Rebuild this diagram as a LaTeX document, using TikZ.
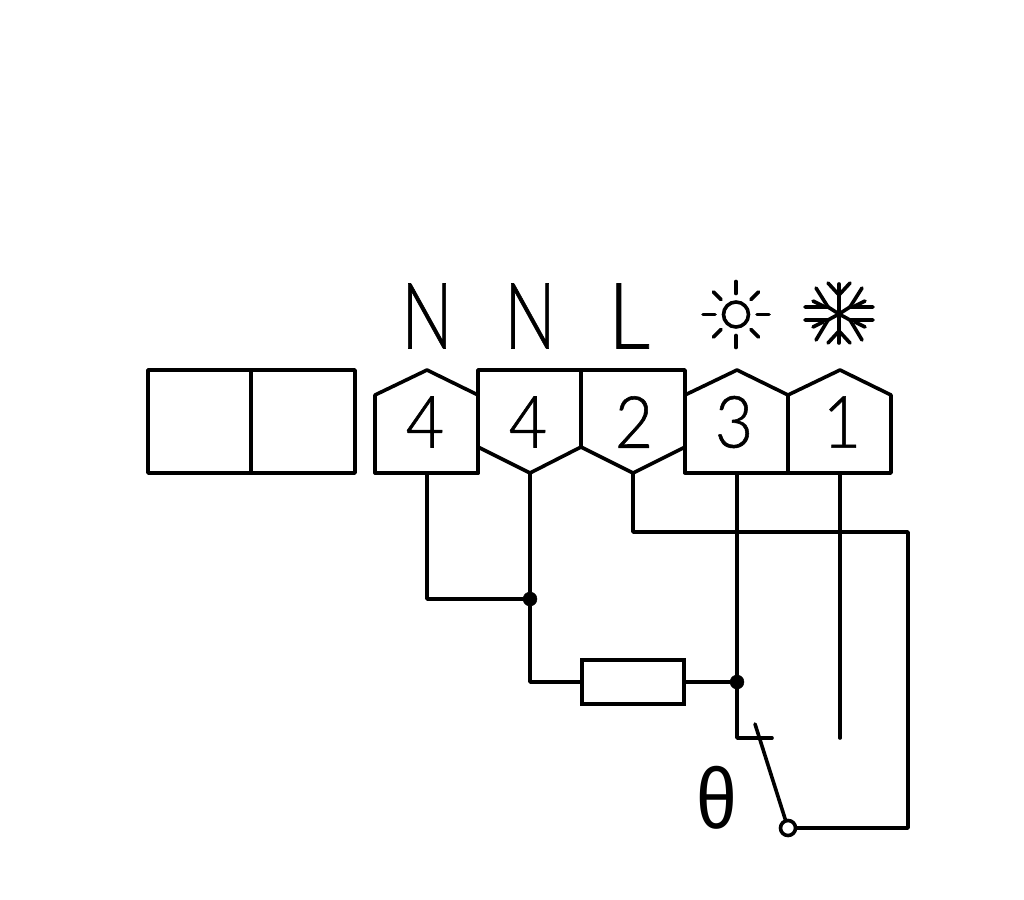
\documentclass[tikz,border=0pt]{standalone}
\usepackage{fontspec}
\setmainfont{Liberation Sans}
\newfontfamily\thinfont{Lato Light}[FakeBold=0.8]
\tikzset{
  x=1pt,y=-1pt,
  wire/.style={line width=3.6pt,line cap=round,line join=round},
  glyph/.style={line width=3.6pt,line cap=round,line join=round},
  dotmark/.style={circle,fill=black,draw=black,inner sep=0pt,minimum size=14pt},
  hollow/.style={circle,fill=white,draw=black,line width=3.6pt,inner sep=0pt,minimum size=15pt},
  bigtxt/.style={inner sep=0pt,font=\thinfont\fontsize{92}{92}\selectfont},
  numtxt/.style={inner sep=0pt,font=\thinfont\fontsize{72}{72}\selectfont},
}
\begin{document}
\begin{tikzpicture}
\useasboundingbox (0,0) rectangle (1024,899);
% blank pair
\draw[wire] (148,370) rectangle (355,473);
\draw[wire] (251,370) -- (251,473);
% terminals
\draw[wire] (375,473) -- (375,395) -- (427,370) -- (478,395);
\draw[wire] (375,473) -- (478,473);
\draw[wire] (478,473) -- (478,370) -- (685,370) -- (685,473);
\draw[wire] (581,370) -- (581,447);
\draw[wire] (478,447) -- (530,473) -- (581,447) -- (633,473) -- (685,447);
\draw[wire] (685,395) -- (737,370) -- (788,395) -- (840,370) -- (891,395) -- (891,473) -- (685,473);
\draw[wire] (788,395) -- (788,473);
% pins
\coordinate (p1) at (427,473);
\coordinate (p2) at (530,473);
\coordinate (p3) at (633,473);
\coordinate (p4) at (737,473);
\coordinate (p5) at (840,473);
\node[dotmark] (j1) at (530,599) {};
\node[dotmark] (j2) at (737,682) {};
\node[draw=black,line width=3.6pt,minimum width=102pt,minimum height=44pt,inner sep=0pt] (r) at (633,682) {};
\coordinate (c3) at (737,738);
\coordinate (c3e) at (772,738);
\coordinate (c1) at (840,738);
\coordinate (b) at (755,724);
\coordinate (swc) at (788,828);
\draw[wire] (p1) |- (j1);
\draw[wire] (p2) -- (j1);
\draw[wire] (j1) |- (r.west);
\draw[wire] (r.east) -- (j2);
\draw[wire] (p4) -- (c3) -- (c3e);
\draw[wire] (p5) -- (c1);
\draw[wire] (b) -- (swc);
\draw[wire] (swc) -- (908,828) -- (908,532) -- (633,532) -- (p3);
\node[hollow] (sw) at (swc) {};
% labels
\node[bigtxt] (n1) at (427,316) {\scalebox{.74}[1]{N}};
\node[bigtxt] (n2) at (530,316) {\scalebox{.74}[1]{N}};
\node[bigtxt] (n3) at (629,316) {\scalebox{.9}[1]{L}};
\node[numtxt] (d1) at (425,422) {\scalebox{.92}[1]{4}};
\node[numtxt] (d2) at (528,422) {\scalebox{.92}[1]{4}};
\node[numtxt] (d3) at (634,422) {\scalebox{.92}[1]{2}};
\node[numtxt] (d4) at (734,422) {\scalebox{.92}[1]{3}};
\node[numtxt] (d5) at (842,422) {\scalebox{.92}[1]{1}};
\node[inner sep=0pt,font=\fontsize{86}{86}\selectfont] (th) at (717,798) {\scalebox{.85}[1]{θ}};
% sun
\begin{scope}[shift={(736,314.5)}]
\draw[glyph] (0,0) circle (12.5);
\foreach \a in {0,90,180,270}{\draw[glyph] (\a:21) -- (\a:33);}
\foreach \a in {45,135,225,315}{\draw[glyph] (\a:21) -- (\a:32);}
\end{scope}
% snowflake
\begin{scope}[shift={(839,314)}]
\draw[glyph] (0,-30) -- (0,29);
\draw[glyph] (-11,-31) -- (0,-19) -- (11,-31);
\draw[glyph] (-11,29) -- (0,17) -- (11,29);
\foreach \s in {1,-1}{
 \draw[glyph,xscale=\s] (-34,-7) -- (-11,-7) -- (0,0) -- (-11,6) -- (-34,6);
 \draw[glyph,xscale=\s] (-23,-26) -- (-11,-7);
 \draw[glyph,xscale=\s] (-23,26) -- (-11,6);
 \draw[glyph,xscale=\s] (-26,-13) -- (-16,-8);
 \draw[glyph,xscale=\s] (-26,13) -- (-16,8);
}
\end{scope}
\end{tikzpicture}
\end{document}
